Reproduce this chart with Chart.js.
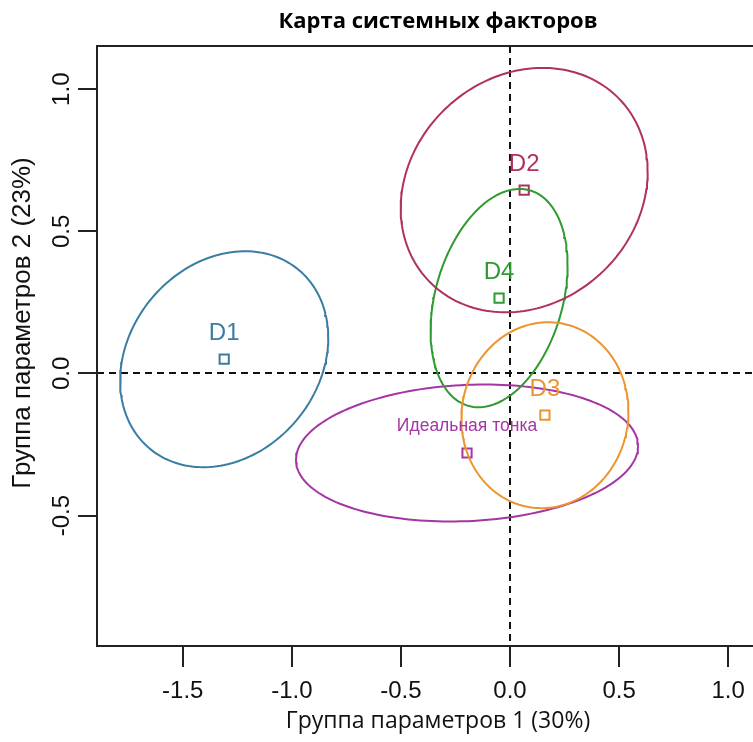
<!DOCTYPE html>
<html>
<head>
<meta charset="utf-8">
<script src="https://cdn.jsdelivr.net/npm/chart.js@4/dist/chart.umd.min.js"></script>
<style>
  html, body { margin: 0; padding: 0; background: #fff; overflow: hidden; }
  #wrap { width: 790px; height: 742px; }
</style>
</head>
<body>
<div id="wrap"><canvas id="c" width="790" height="742"></canvas></div>
<script>
// Group centroids on the two parameter axes
const groupNames = ['D1', 'D2', 'D3', 'D4', 'Идеальная тонка'];
const groupX = [-1.31, 0.065, 0.16, -0.05, -0.197];
const groupY = [0.05, 0.645, -0.147, 0.265, -0.28];

// Confidence ellipse for each group: half-extent along each axis and x–y correlation
const ellipseHalfWidth = [0.477, 0.566, 0.383, 0.314, 0.784];
const ellipseHalfHeight = [0.380, 0.430, 0.327, 0.384, 0.241];
const ellipseCorr = [0.20, 0.15, 0.04, 0.30, 0.10];

const groupColors = ['#3b7ca3', '#b03060', '#ec9430', '#2f9a2f', '#a535a5'];

const xTicks = [-1.5, -1.0, -0.5, 0, 0.5, 1.0];
const xTickLabels = ['-1.5', '-1.0', '-0.5', '0.0', '0.5', '1.0'];
const yTicks = [-0.5, 0, 0.5, 1.0];
const yTickLabels = ['-0.5', '0.0', '0.5', '1.0'];
const yAxisTitle = 'Группа параметров 2 (23%)';

// Outline of an ellipse given its centre, half-extents and correlation
function ellipseOutline(i) {
  const pts = [];
  const n = 180;
  const r = ellipseCorr[i];
  const s = Math.sqrt(1 - r * r);
  for (let k = 0; k <= n; k++) {
    const t = 2 * Math.PI * k / n;
    pts.push({
      x: groupX[i] + ellipseHalfWidth[i] * Math.cos(t),
      y: groupY[i] + ellipseHalfHeight[i] * (r * Math.cos(t) + s * Math.sin(t))
    });
  }
  return pts;
}

const datasets = [];
groupNames.forEach((name, i) => {
  datasets.push({
    label: name + ' ellipse',
    data: ellipseOutline(i),
    showLine: true,
    borderColor: groupColors[i],
    borderWidth: 2,
    pointRadius: 0,
    fill: false,
    tension: 0
  });
});
groupNames.forEach((name, i) => {
  datasets.push({
    label: name,
    data: [{ x: groupX[i], y: groupY[i] }],
    showLine: false,
    pointStyle: 'rect',
    pointRadius: 6.5,
    pointBorderWidth: 2,
    borderColor: groupColors[i],
    pointBorderColor: groupColors[i],
    pointBackgroundColor: 'rgba(0,0,0,0)'
  });
});

const gridZeroOnly = (ctx) => (ctx.tick && ctx.tick.value === 0) ? '#111' : 'rgba(0,0,0,0)';

// Frame, rotated y tick labels, y axis title and group names
const decorations = {
  id: 'decorations',
  afterDraw(chart) {
    const { ctx, chartArea, scales } = chart;
    ctx.save();
    ctx.strokeStyle = '#222';
    ctx.lineWidth = 2;
    ctx.strokeRect(chartArea.left, chartArea.top, chartArea.right - chartArea.left, chartArea.bottom - chartArea.top);

    ctx.fillStyle = '#111';
    ctx.font = '24px "Liberation Sans", Arial, sans-serif';
    ctx.textAlign = 'center';
    ctx.textBaseline = 'middle';
    yTicks.forEach((v, i) => {
      const py = scales.y.getPixelForValue(v);
      ctx.save();
      ctx.translate(62, py);
      ctx.rotate(-Math.PI / 2);
      ctx.fillText(yTickLabels[i], 0, 0);
      ctx.restore();
    });

    ctx.save();
    ctx.font = '26px "Liberation Sans", Arial, sans-serif';
    ctx.translate(23, 323);
    ctx.rotate(-Math.PI / 2);
    ctx.fillText(yAxisTitle, 0, 0);
    ctx.restore();

    groupNames.forEach((name, i) => {
      const px = scales.x.getPixelForValue(groupX[i]);
      const py = scales.y.getPixelForValue(groupY[i]);
      ctx.fillStyle = groupColors[i];
      ctx.font = (i === 4 ? '17.5px' : '24px') + ' "Liberation Sans", Arial, sans-serif';
      ctx.fillText(name, px, py - (i === 4 ? 27 : 26));
    });
    ctx.restore();
  }
};

new Chart(document.getElementById('c'), {
  type: 'scatter',
  data: { datasets },
  plugins: [decorations],
  options: {
    responsive: false,
    animation: false,
    devicePixelRatio: 1,
    layout: { padding: { left: 0, right: 11, top: 0, bottom: 0 } },
    plugins: {
      legend: { display: false },
      tooltip: { enabled: false },
      title: {
        display: true,
        text: 'Карта системных факторов',
        fullSize: false,
        color: '#000',
        font: { family: 'Open Sans', size: 22, weight: 'bold' },
        padding: { top: 9, bottom: 10.6 }
      }
    },
    scales: {
      x: {
        type: 'linear',
        min: -1.893,
        max: 1.233,
        afterBuildTicks: (s) => { s.ticks = xTicks.map(v => ({ value: v })); },
        afterFit: (s) => { s.height = 96; },
        grid: {
          drawOnChartArea: true,
          color: gridZeroOnly,
          lineWidth: 2,
          tickColor: '#222',
          tickLength: 21,
          tickWidth: 2
        },
        border: { display: false, dash: [7, 5] },
        ticks: {
          callback: (v, i) => xTickLabels[i],
          autoSkip: false,
          maxRotation: 0,
          color: '#111',
          padding: 10,
          font: { family: 'Liberation Sans', size: 24 }
        },
        title: {
          display: true,
          text: 'Группа параметров 1 (30%)',
          color: '#111',
          font: { family: 'Open Sans', size: 23 },
          padding: { top: 0, bottom: 7 }
        }
      },
      y: {
        type: 'linear',
        min: -0.959,
        max: 1.152,
        afterBuildTicks: (s) => { s.ticks = yTicks.map(v => ({ value: v })); },
        afterFit: (s) => { s.width = 97; },
        grid: {
          drawOnChartArea: true,
          color: gridZeroOnly,
          lineWidth: 2,
          tickColor: '#222',
          tickLength: 19,
          tickWidth: 2
        },
        border: { display: false, dash: [7, 5] },
        ticks: { display: false }
      }
    }
  }
});
</script>
</body>
</html>
